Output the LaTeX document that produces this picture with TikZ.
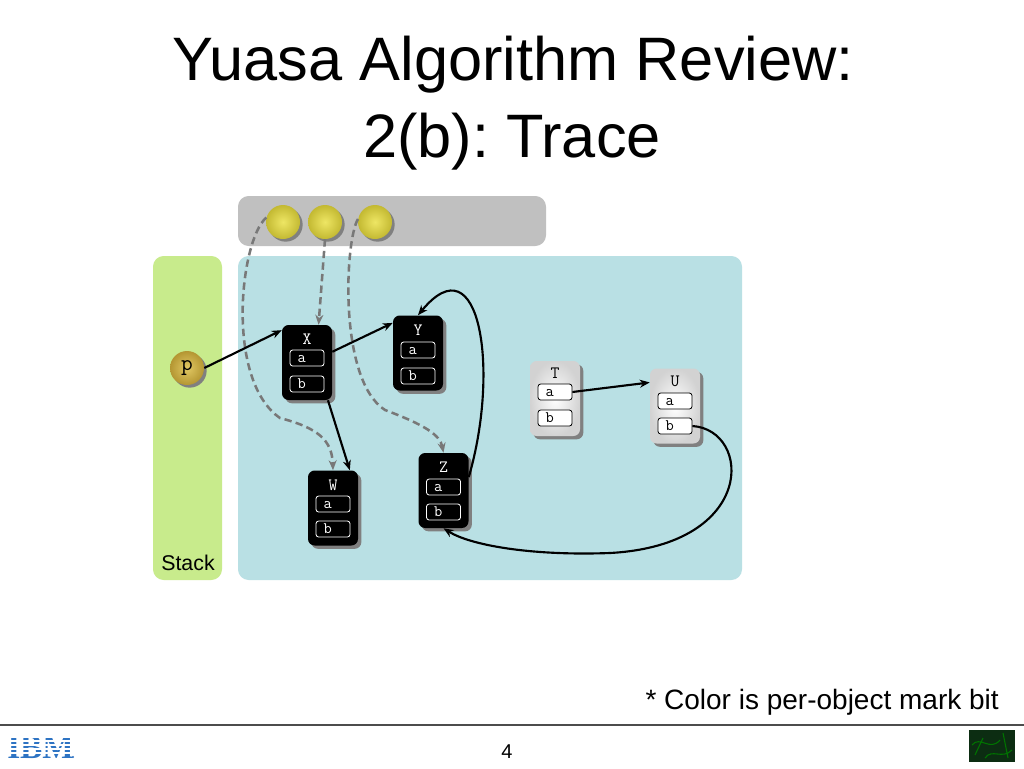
\documentclass[tikz,border=0pt]{standalone}
\usepackage{fontspec}
\setmainfont{Liberation Sans}
\newfontfamily\ibmfont{Liberation Serif}
\usetikzlibrary{shadows,arrows.meta,calc}
\definecolor{heapc}{RGB}{185,224,228}
\definecolor{stackc}{RGB}{200,235,140}
\definecolor{rootbar}{RGB}{192,192,192}
\definecolor{ballin}{RGB}{238,230,100}
\definecolor{ballout}{RGB}{195,185,50}
\definecolor{pballin}{RGB}{225,200,100}
\definecolor{pballout}{RGB}{180,150,50}
\definecolor{dashc}{RGB}{120,120,120}
\definecolor{ibmblue}{RGB}{45,115,195}
\definecolor{chipc}{RGB}{12,45,18}
\frenchspacing
\begin{document}
\begin{tikzpicture}[x=0.75pt,y=-0.75pt,
  arr/.style={line width=1.6pt, black, -{Stealth[length=7.5pt,width=6pt]}},
  darr/.style={line width=1.9pt, dashc, dash pattern=on 5.5pt off 3.2pt, -{Stealth[length=7.5pt,width=6pt]}},
  objbase/.style={rounded corners=5pt, minimum width=37.5pt, minimum height=56.25pt, inner sep=0pt,
    drop shadow={shadow xshift=2.5pt, shadow yshift=-2.5pt, fill=gray, opacity=1}},
  blackobj/.style={objbase, fill=black},
  greyobj/.style={objbase, inner color=white, outer color=gray!35},
  fieldbase/.style={line width=0.6pt, rounded corners=2pt, minimum width=25.5pt, minimum height=12pt,
    text width=20pt, inner sep=2.5pt, align=left, font=\ttfamily\fontsize{12}{12}\selectfont,
    text height=1.2ex, text depth=0pt, execute at begin node={\hspace*{3pt}}},
  bfield/.style={fieldbase, draw=white, text=white},
  gfield/.style={fieldbase, draw=black, fill=white, text=black},
  blbl/.style={text=white, font=\ttfamily\fontsize{13}{13}\selectfont, inner sep=0pt},
  glbl/.style={text=black, font=\ttfamily\fontsize{13}{13}\selectfont, inner sep=0pt},
  ball/.style={circle, minimum size=25.5pt, inner sep=0pt, inner color=ballin, outer color=ballout,
    drop shadow={shadow xshift=2pt, shadow yshift=-2pt, fill=gray, opacity=1}},
  panel/.style={rounded corners=8pt}
]
\useasboundingbox (0,0) rectangle (1024,768);
\fill[white] (0,0) rectangle (1024,768);

% title
\node[anchor=base, font=\fontsize{46}{46}\selectfont, inner sep=0pt] (t1) at (513,80) {Yuasa Algorithm Review:};
\node[anchor=base, font=\fontsize{46}{46}\selectfont, inner sep=0pt] (t2) at (512,157) {2(b): Trace};

% panels
\fill[rootbar, panel] (238,196) rectangle (546,246);
\fill[stackc, panel] (153,256) rectangle (222,580);
\fill[heapc, panel] (238,256) rectangle (742,580);
\node[anchor=base, font=\fontsize{16}{16}\selectfont, inner sep=0pt] (stk) at (188,570) {Stack};

% root balls
\node[ball] (b1) at (283,222) {};
\node[ball] (b2) at (325,222) {};
\node[ball] (b3) at (375,222) {};
\node[ball, inner color=pballin, outer color=pballout, font=\ttfamily\fontsize{17}{17}\selectfont] (p) at (187,368) {p};

% objects
\node[blackobj] (X) at (307,362.5) {};
\node[blbl] (Xl) at (307,339) {X};
\node[bfield] (Xa) at (307,358) {a};
\node[bfield] (Xb) at (307,384) {b};

\node[blackobj] (Y) at (418,353) {};
\node[blbl] (Yl) at (418,330) {Y};
\node[bfield] (Ya) at (418,350) {a};
\node[bfield] (Yb) at (418,376) {b};

\node[blackobj] (W) at (333,508) {};
\node[blbl] (Wl) at (333,485) {W};
\node[bfield] (Wa) at (333,504) {a};
\node[bfield] (Wb) at (333,529) {b};

\node[blackobj] (Z) at (443.5,490.5) {};
\node[blbl] (Zl) at (443.5,467) {Z};
\node[bfield] (Za) at (443.5,487) {a};
\node[bfield] (Zb) at (443.5,512) {b};

\node[greyobj] (T) at (555,398.5) {};
\node[glbl] (Tl) at (555,373) {T};
\node[gfield] (Ta) at (555,392) {a};
\node[gfield] (Tb) at (555,418) {b};

\node[greyobj] (U) at (675,406) {};
\node[glbl] (Ul) at (675,381) {U};
\node[gfield] (Ua) at (675,401) {a};
\node[gfield] (Ub) at (675,426) {b};

% dashed root references
\draw[darr] (b1.165) .. controls (240,240) and (225,380) .. (280,418)
  .. controls (318,428) and (332,440) .. (W.north);
\draw[darr] (b2.south) -- (X.73);
\draw[darr] (b3.170) .. controls (345,240) and (338,380) .. (385,410)
  .. controls (425,425) and (440,435) .. (Z.north);

% pointers
\draw[arr] (p.east) -- (X.128);
\draw[arr] (X.23) -- (Y.130);
\draw[arr] (X.-61) -- (W.66);
\draw[arr] (Z.28) .. controls (500,370) and (480,240) .. (Y.north);
\draw[arr] (Ta.east) -- (U.137);
\draw[arr] (Ub.east) .. controls (752,430) and (757,545) .. (610,553)
  .. controls (530,556) and (470,545) .. (Z.south);

% footer
\node[anchor=base east, font=\fontsize{21}{21}\selectfont, inner sep=0pt] (note) at (999,709) {* Color is per-object mark bit};
\draw[line width=1.2pt, black!70] (0,725) -- (1024,725);
\node[anchor=base, font=\fontsize{15}{15}\selectfont, inner sep=0pt] (pg) at (507,758) {4};
\node[anchor=base west, font=\ibmfont\bfseries\fontsize{25}{25}\selectfont, text=ibmblue, inner sep=0pt] (ibm) at (7,758) {IBM};
\foreach \yy in {737,741,745,749,753}
  \draw[white, line width=1.3pt] (4,\yy) -- (78,\yy);
\fill[ibmblue] (73,757) circle (1.2);
\fill[chipc] (969,730) rectangle (1015,762);
\draw[green!45!black, line width=0.8pt] (972,745) .. controls (980,735) and (990,752) .. (1000,740)
  (985,758) .. controls (992,748) and (1002,760) .. (1012,750)
  (975,755) -- (983,738) (1003,733) -- (1008,758);
\end{tikzpicture}
\end{document}
